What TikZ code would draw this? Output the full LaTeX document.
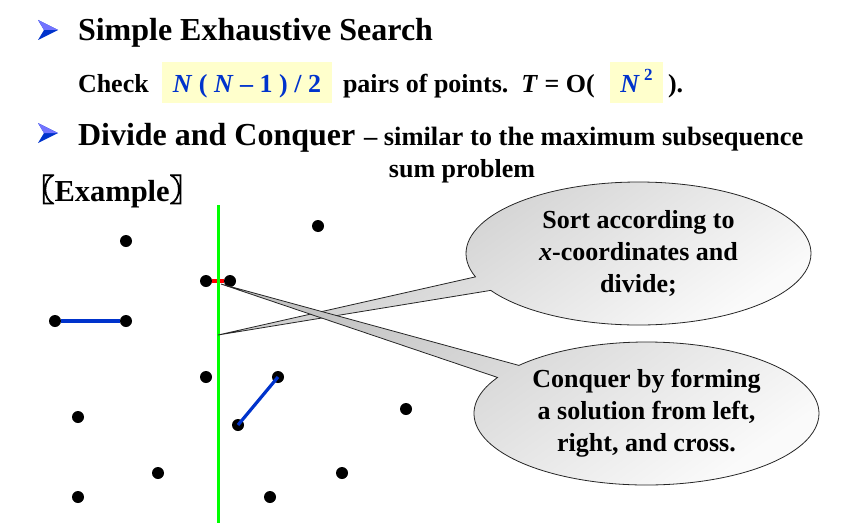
\documentclass[tikz,border=0pt]{standalone}
\usepackage{fontspec}
\setmainfont{Liberation Serif}
\newfontfamily\cjk[FakeBold=3]{Noto Sans CJK SC}
\usepackage{xcolor}
\usepackage{tikz}
\usetikzlibrary{positioning,shapes.callouts}

\definecolor{hlblue}{RGB}{0,51,204}
\definecolor{hlyellow}{RGB}{255,255,204}
\definecolor{cutgreen}{RGB}{0,255,0}

\begin{document}
\begin{tikzpicture}[x=1pt, y=-1pt,
    every node/.style={inner sep=0pt, outer sep=0pt},
    headtxt/.style={font=\fontsize{32}{36}\selectfont\bfseries, anchor=base west},
    bodytxt/.style={font=\fontsize{26}{32}\selectfont\bfseries, anchor=base west},
    hlbox/.style={fill=hlyellow, text=hlblue, anchor=base,
                  font=\fontsize{26}{32}\selectfont\bfseries,
                  text height=26pt, text depth=7pt, inner ysep=4pt},
    dot/.style={circle, fill=black, minimum size=12pt},
    pairline/.style={hlblue, line width=3.2pt},
    crossline/.style={red, line width=3.2pt},
    cutline/.style={cutgreen, line width=3pt},
    note/.style={ellipse callout, draw=black!85, line width=0.8pt,
                 minimum width=345pt, minimum height=143pt,
                 callout pointer arc=12,
                 top color=black!24, bottom color=black!2, shading angle=35,
                 align=center, font=\fontsize{26}{32}\selectfont\bfseries},
    pics/arrowmark/.style={code={
        \fill[hlblue] (-10,-10) -- (10,0) -- (-10,10) -- (-4,0) -- cycle;
        \fill[blue!55] (-10,-10) -- (10,0) -- (-4,0) -- cycle;
    }},
  ]
    \useasboundingbox (0,0) rectangle (850,527);

    % headings
    \pic at (48,30)  {arrowmark};
    \node[headtxt] (exh) at (78,41) {Simple Exhaustive Search};

    \node[bodytxt] (chk) at (78,92) {Check};
    \node[hlbox, minimum width=170pt] (cnt) at (247,92)
      {\textit{N} ( \textit{N} -- 1 ) / 2};
    \node[bodytxt] (prs) at (343,92) {pairs of points.\ \ \textit{T} = O(};
    \node[hlbox, minimum width=53pt] (ord) at (636.5,92)
      {\textit{N}\,\raisebox{0.45em}{\fontsize{17}{20}\selectfont 2}};
    \node[bodytxt] (cls) at (668,92) {).};

    \pic at (48,133) {arrowmark};
    \node[headtxt] (dac) at (78,145) {Divide and Conquer};
    \node[bodytxt, font=\fontsize{26.5}{32}\selectfont\bfseries] (sim) at (364,145)
      {-- similar to the maximum subsequence};
    \node[bodytxt, anchor=base] (sum) at (462,177) {sum problem};

    \node[headtxt, font=\fontsize{30.5}{34}\selectfont\bfseries] (ex) at (24,201)
      {{\cjk 〖}Example{\cjk 〗}};

    % points
    \node[dot] (l1) at (126,241) {};
    \node[dot] (l2) at (206,281) {};
    \node[dot] (l3) at (55,321)  {};
    \node[dot] (l4) at (126,321) {};
    \node[dot] (l5) at (206,377) {};
    \node[dot] (l6) at (78,417)  {};
    \node[dot] (l7) at (158,473) {};
    \node[dot] (l8) at (78,497)  {};
    \node[dot] (r1) at (230,281) {};
    \node[dot] (r2) at (318,226) {};
    \node[dot] (r3) at (278,377) {};
    \node[dot] (r4) at (238,425) {};
    \node[dot] (r5) at (406,409) {};
    \node[dot] (r6) at (342,473) {};
    \node[dot] (r7) at (270,497) {};

    \draw[pairline]  (l3) -- (l4);
    \draw[pairline]  (r3.center) -- (r4.center);
    \draw[crossline] (l2) -- (r1);

    \coordinate (divtop) at (218,205);
    \coordinate (divbot) at (218,523);
    \draw[cutline] (divtop) -- (divbot);

    % callouts
    \coordinate (tipa) at (218,335);
    \coordinate (tipb) at (221,284);
    \node[note, callout absolute pointer={(tipa)}] (sortnote) at (638.5,253.5)
      {Sort according to\\\textit{x}-coordinates and\\divide;};
    \node[note, callout absolute pointer={(tipb)}] (conqnote) at (646.5,413.5)
      {Conquer by forming\\a solution from left,\\right, and cross.};
  \end{tikzpicture}
\end{document}
